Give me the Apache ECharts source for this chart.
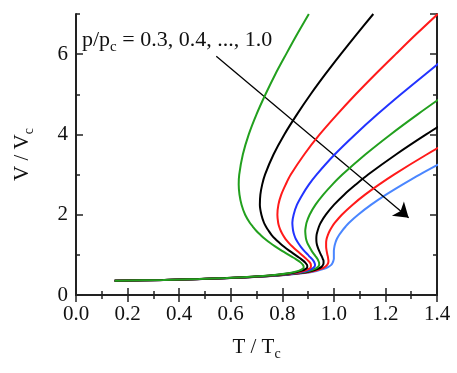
<!DOCTYPE html>
<html><head><meta charset="utf-8">
<script src="https://cdn.jsdelivr.net/npm/echarts@6/dist/echarts.min.js"></script>
<style>html,body{margin:0;padding:0;background:#fff}#c{width:457px;height:373px}</style>
</head><body><div id="c"></div>
<script>
// Reduced volume samples (V/Vc), shared by all isobars
var vol = [0.355,0.375,0.4,0.425,0.45,0.5,0.55,0.6,0.65,0.7,0.75,0.8,0.85,0.9,0.95,1.0,1.1,1.2,1.3,1.4,1.5,1.6,1.7,1.8,2.0,2.25,2.5,2.75,3.0,3.5,4.0,4.5,5.0,5.5,6.0,6.5,7.0];
// Reduced temperature (T/Tc) along each isobar p/pc
var pressures = ['0.3','0.4','0.5','0.6','0.7','0.8','0.9','1.0'];
var t03 = [0.150,0.338,0.476,0.581,0.661,0.769,0.830,0.863,0.879,0.883,0.880,0.873,0.863,0.851,0.838,0.825,0.799,0.775,0.752,0.732,0.715,0.699,0.686,0.674,0.656,0.642,0.634,0.631,0.633,0.647,0.670,0.700,0.735,0.773,0.815,0.858,0.903];
var t04 = [0.150,0.340,0.479,0.585,0.666,0.775,0.838,0.873,0.891,0.897,0.896,0.890,0.882,0.872,0.861,0.850,0.828,0.807,0.789,0.772,0.758,0.747,0.737,0.729,0.719,0.713,0.715,0.722,0.733,0.766,0.808,0.857,0.910,0.967,1.027,1.089,1.153];
var t05 = [0.150,0.341,0.481,0.588,0.670,0.781,0.846,0.883,0.903,0.911,0.911,0.908,0.901,0.893,0.884,0.875,0.857,0.840,0.825,0.812,0.802,0.794,0.788,0.784,0.781,0.785,0.796,0.813,0.833,0.885,0.945,1.013,1.085,1.161,1.240,1.320,1.403];
var t06 = [0.150,0.343,0.484,0.592,0.674,0.788,0.855,0.893,0.914,0.924,0.927,0.925,0.921,0.915,0.907,0.900,0.885,0.872,0.861,0.852,0.846,0.842,0.840,0.839,0.844,0.857,0.878,0.903,0.933,1.003,1.083,1.169,1.260,1.355,1.452,1.552,1.653];
var t07 = [0.150,0.344,0.486,0.595,0.679,0.794,0.863,0.903,0.926,0.938,0.943,0.943,0.940,0.936,0.931,0.925,0.914,0.905,0.897,0.892,0.890,0.889,0.891,0.894,0.906,0.929,0.959,0.994,1.033,1.122,1.220,1.325,1.435,1.548];
var t08 = [0.150,0.346,0.489,0.598,0.683,0.800,0.871,0.913,0.938,0.952,0.958,0.960,0.960,0.957,0.954,0.950,0.943,0.937,0.933,0.932,0.933,0.937,0.942,0.949,0.969,1.001,1.040,1.085,1.133,1.241,1.358,1.482];
var t09 = [0.150,0.347,0.491,0.602,0.688,0.806,0.879,0.923,0.950,0.966,0.974,0.978,0.979,0.978,0.977,0.975,0.972,0.970,0.970,0.972,0.977,0.984,0.993,1.004,1.031,1.073,1.121,1.175,1.233,1.360,1.495];
var t10 = [0.150,0.349,0.494,0.605,0.692,0.8125,0.887,0.933,0.962,0.979,0.990,0.995,0.998,1.000,1.000,1.000,1.000,1.002,1.006,1.012,1.021,1.032,1.045,1.059,1.094,1.145,1.2025,1.266,1.333,1.478];
var temps = [t03,t04,t05,t06,t07,t08,t09,t10];
var colors = ['#22a01e','#000000','#ff1a1a','#2233ff','#22a01e','#000000','#ff1a1a','#4a86ff'];
var xTicks = [0.0,1.4,0.2];
var yTicks = [0,7,2];

var serif = '"Liberation Serif","DejaVu Serif",serif';
var series = [];
for (var i = temps.length - 1; i >= 0; i--) {
  var d = [];
  for (var k = 0; k < temps[i].length; k++) d.push([temps[i][k], vol[k]]);
  series.push({
    name: 'p/pc=' + pressures[i], type: 'line', data: d, showSymbol: false, smooth: 0.3,
    xAxisIndex: 0, yAxisIndex: 0, clip: true,
    lineStyle: {color: colors[i], width: 2}, itemStyle: {color: colors[i]}, z: 3 + (temps.length - i)
  });
}
// arrow annotation (separate series so it is not clipped/altered)
series.push({
  type: 'line', data: [], xAxisIndex: 0, yAxisIndex: 0, z: 20,
  markLine: {
    silent: true, symbol: ['none', 'arrow'], symbolSize: 14, animation: false,
    lineStyle: {color: '#000', width: 1.3, type: 'solid'}, label: {show: false},
    itemStyle: {color: '#000'},
    data: [[{coord: [0.544, 5.95]}, {coord: [1.29, 1.925]}]]
  }
});

var axisLineStyle = {show: true, lineStyle: {color: '#222', width: 2}};
var richSub = function (big, small, pad) {
  return {
    a: {fontFamily: serif, fontSize: big, color: '#111', lineHeight: 24},
    b: {fontFamily: serif, fontSize: small, color: '#111', lineHeight: 24, padding: [pad, 0, 0, 0]}
  };
};
function xAx(pos, labels) {
  return {
    type: 'value', position: pos, min: xTicks[0], max: xTicks[1], interval: xTicks[2],
    axisLine: axisLineStyle,
    axisTick: {show: true, inside: true, length: 7, lineStyle: {color: '#222', width: 1.5}},
    minorTick: {show: true, splitNumber: 2, length: 4, lineStyle: {color: '#222', width: 1.5}},
    splitLine: {show: false},
    axisLabel: {show: labels, color: '#111', fontFamily: serif, fontSize: 21, margin: 9,
      formatter: function (v) { return v.toFixed(1); }},
    name: labels ? '{a|T / T}{b|c}' : '', nameLocation: 'middle', nameGap: 40,
    nameTextStyle: {rich: richSub(21, 14, 14)}
  };
}
function yAx(pos, labels, major) {
  return {
    type: 'value', position: pos, min: yTicks[0], max: yTicks[1], interval: major ? yTicks[2] : yTicks[2] / 2,
    axisLine: major ? axisLineStyle : {show: false},
    axisTick: {show: true, inside: true, length: major ? 7 : 4, lineStyle: {color: '#222', width: 1.5}},
    splitLine: {show: false},
    axisLabel: {show: labels, showMaxLabel: false, color: '#111', fontFamily: serif, fontSize: 21, margin: 8},
    name: labels ? '{a|V / V}{b|c}' : '', nameLocation: 'middle', nameGap: 42, nameRotate: 90,
    nameTextStyle: {rich: richSub(21, 14, 14)}
  };
}

var chart = echarts.init(document.getElementById('c'), null, {renderer: 'canvas'});
chart.setOption({
  animation: false,
  backgroundColor: '#fff',
  grid: {left: 68, right: 20, top: 14, bottom: 78},
  xAxis: [xAx('bottom', true), xAx('top', false)],
  yAxis: [yAx('left', true, true), yAx('left', false, false), yAx('right', false, true), yAx('right', false, false)],
  graphic: [{
    type: 'text', left: 82, top: 26, z: 100,
    style: {
      text: '{a|p/p}{b|c}{a| = 0.3, 0.4, ..., 1.0}',
      rich: {
        a: {fontFamily: serif, fontSize: 22, fill: '#111', lineHeight: 26},
        b: {fontFamily: serif, fontSize: 15, fill: '#111', lineHeight: 26, padding: [14, 0, 0, 0]}
      }
    }
  }],
  series: series
});
</script></body></html>
